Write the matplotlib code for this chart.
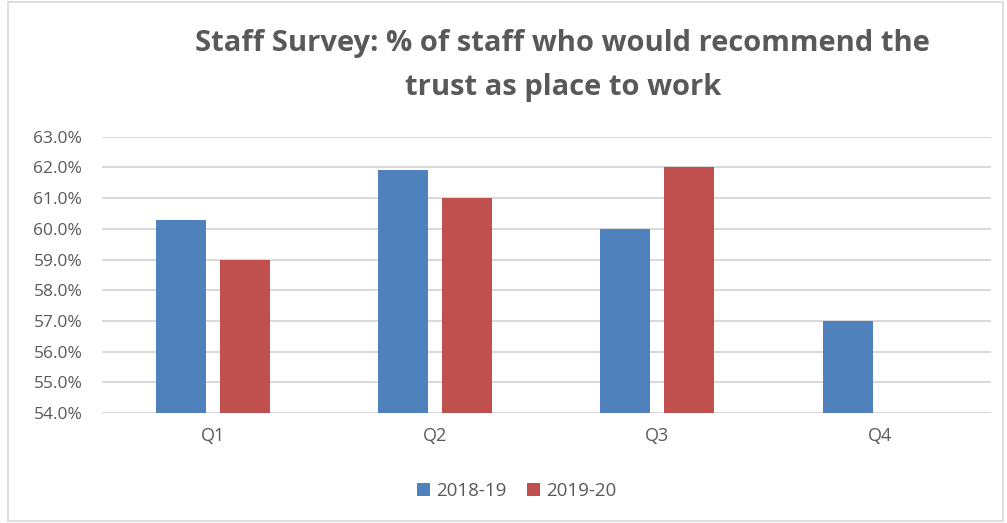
import matplotlib
matplotlib.use("Agg")
import matplotlib.pyplot as plt
import numpy as np
from matplotlib.patches import Rectangle
from matplotlib.ticker import FuncFormatter, MultipleLocator

categories = ["Q1", "Q2", "Q3", "Q4"]
series_names = ["2018-19", "2019-20"]
values_2018_19 = [60.3, 61.9, 60.0, 57.0]
values_2019_20 = [59.0, 61.0, 62.0, np.nan]
colors = ["#4F81BD", "#C0504D"]

plt.rcParams['font.family'] = ['Open Sans', 'DejaVu Sans']
txt = "#595959"

fig = plt.figure(figsize=(10.07, 5.23), dpi=100)
ax = fig.add_axes([0.101, 0.2103, 0.883, 0.5283])

x = np.arange(len(categories))
w = 0.225
off = 0.144
ax.bar(x - off, values_2018_19, w, color=colors[0], label=series_names[0], zorder=3)
ax.bar(x + off, values_2019_20, w, color=colors[1], label=series_names[1], zorder=3)

ax.set_ylim(54, 63)
ax.set_xlim(-0.5, 3.5)
ax.yaxis.set_major_locator(MultipleLocator(1))
ax.yaxis.set_major_formatter(FuncFormatter(lambda v, p: f"{v:.1f}%"))
ax.grid(axis='y', color='#D9D9D9', linewidth=1.5, zorder=0)
for s in ax.spines.values():
    s.set_visible(False)
ax.tick_params(axis='both', length=0, colors=txt)
ax.tick_params(axis='y', pad=14, labelsize=12.5)
ax.tick_params(axis='x', pad=10, labelsize=13)
ax.set_xticks(x)
ax.set_xticklabels(categories)

fig.text(0.559, 0.874, "Staff Survey: % of staff who would recommend the\ntrust as place to work",
         ha='center', va='center', fontsize=21, fontweight='bold', color=txt, linespacing=1.68)

leg = fig.legend(loc='center', bbox_to_anchor=(0.513, 0.061), ncol=2, frameon=False,
                 fontsize=13.5, handlelength=0.7, handleheight=0.7, columnspacing=1.1, handletextpad=0.32)
for t in leg.get_texts():
    t.set_color(txt)

fig.patches.append(Rectangle((0.008, 0.004), 0.988, 0.992, transform=fig.transFigure,
                             fill=False, edgecolor='#D9D9D9', linewidth=1.2))

fig.savefig("out.png", dpi=100)
